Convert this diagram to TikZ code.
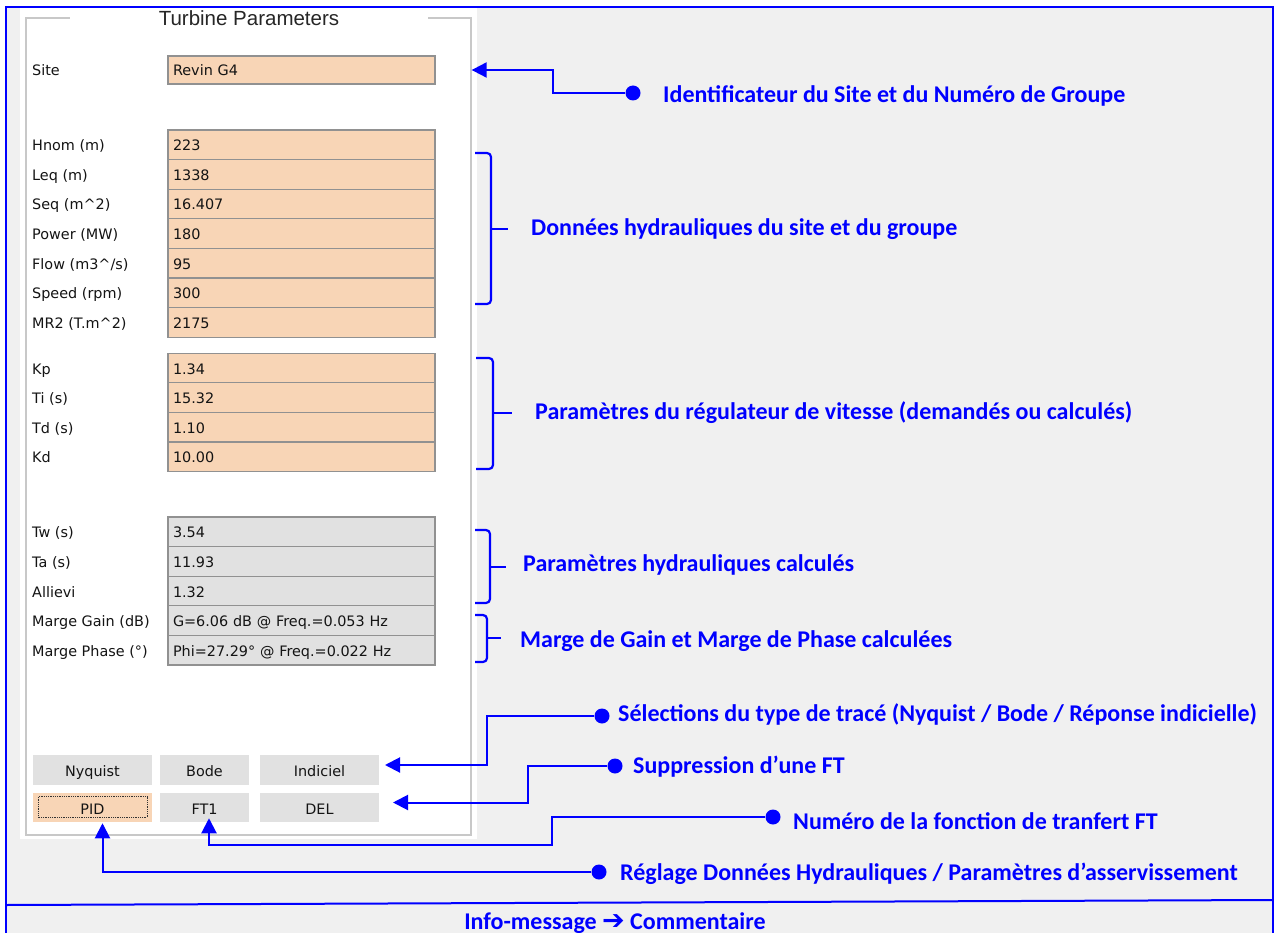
\documentclass[tikz,border=0pt]{standalone}
\usepackage{fontspec}
\setmainfont{DejaVu Sans}
\newfontfamily\titlefont{Liberation Sans}
\newfontfamily\notefont{Carlito}
\newfontfamily\symbolfont{DejaVu Sans}
\usetikzlibrary{arrows.meta, positioning}

\definecolor{winbg}{RGB}{240,240,240}
\definecolor{peach}{RGB}{248,213,182}
\definecolor{ctrlgray}{RGB}{225,225,225}
\definecolor{edgegray}{RGB}{145,145,145}
\definecolor{boxgray}{RGB}{200,200,200}
\definecolor{uitext}{RGB}{20,20,20}
\definecolor{noteblue}{RGB}{0,0,255}

\begin{document}
\begin{tikzpicture}[
    x=1pt, y=-1pt,
    field/.style={rectangle, draw=edgegray, line width=1.3pt, fill=peach, outer sep=0pt,
      minimum width=267pt, minimum height=29.6pt, inner xsep=5pt, inner ysep=0pt,
      text width=257pt, align=left, text height=12pt, text depth=0pt,
      font=\fontsize{14.4}{17}\selectfont, text=uitext},
    calcfield/.style={field, fill=ctrlgray},
    lbl/.style={anchor=base west, inner sep=0pt, font=\fontsize{14.4}{17}\selectfont, text=uitext},
    button/.style={rectangle, fill=ctrlgray, minimum width=119pt, minimum height=29.5pt, outer sep=0pt,
      inner sep=0pt, text height=13pt, text depth=0pt, font=\fontsize{14.4}{17}\selectfont, text=uitext},
    note/.style={anchor=base west, inner sep=0pt, text=noteblue, font=\notefont\bfseries\fontsize{24}{28}\selectfont},
    dot/.style={circle, fill=noteblue, minimum size=15pt, inner sep=0pt},
    link/.style={draw=noteblue, line width=2pt, -{Triangle[length=15pt, width=15pt]}},
    brace/.style={draw=noteblue, line width=2.2pt, rounded corners=4pt}
]

% Window and blue frame
\useasboundingbox (0,0) rectangle (1277,933);
\fill[white] (0,0) rectangle (1277,933);
\fill[winbg] (6,7) rectangle (1273,933);
\draw[noteblue, line width=2.5pt] (6,933) -- (6,7) -- (1273,7) -- (1273,933);
\draw[noteblue, line width=2pt] (6,905) -- (1273,900);

% Panel
\fill[white] (20,8) rectangle (477,839);
\node[draw=boxgray, line width=1.3pt, minimum width=445pt, minimum height=817pt] (panel) at (248.5,426.5) {};
\node[fill=white, minimum width=358pt, inner sep=1pt, text=black!85,
  font=\titlefont\fontsize{20.5}{24}\selectfont] (title) at (249,18) {Turbine Parameters};

% Site
\node[field, minimum height=28pt] (site) at (301.5,70) {Revin G4};
\node[lbl] at (32,0 |- site.base) {Site};

% Hydraulic data
\node[field] (hnom) at (301.5,144.8) {223};
\node[field, below=0pt of hnom] (leq) {1338};
\node[field, below=0pt of leq] (seq) {16.407};
\node[field, below=0pt of seq] (power) {180};
\node[field, below=0pt of power] (flow) {95};
\node[field, below=0pt of flow] (speed) {300};
\node[field, below=0pt of speed] (mr2) {2175};
\node[lbl] at (32,0 |- hnom.base) {Hnom (m)};
\node[lbl] at (32,0 |- leq.base) {Leq (m)};
\node[lbl] at (32,0 |- seq.base) {Seq (m\textasciicircum 2)};
\node[lbl] at (32,0 |- power.base) {Power (MW)};
\node[lbl] at (32,0 |- flow.base) {Flow (m3\textasciicircum/s)};
\node[lbl] at (32,0 |- speed.base) {Speed (rpm)};
\node[lbl] at (32,0 |- mr2.base) {MR2 (T.m\textasciicircum 2)};

% Speed governor
\node[field] (kp) at (301.5,368) {1.34};
\node[field, below=0pt of kp] (ti) {15.32};
\node[field, below=0pt of ti] (td) {1.10};
\node[field, below=0pt of td] (kd) {10.00};
\node[lbl] at (32,0 |- kp.base) {Kp};
\node[lbl] at (32,0 |- ti.base) {Ti (s)};
\node[lbl] at (32,0 |- td.base) {Td (s)};
\node[lbl] at (32,0 |- kd.base) {Kd};

% Computed values
\node[calcfield] (tw) at (301.5,531.8) {3.54};
\node[calcfield, below=0pt of tw] (ta) {11.93};
\node[calcfield, below=0pt of ta] (allievi) {1.32};
\node[calcfield, below=0pt of allievi] (gain) {G=6.06 dB @ Freq.=0.053 Hz};
\node[calcfield, below=0pt of gain] (phase) {Phi=27.29° @ Freq.=0.022 Hz};
\node[lbl] at (32,0 |- tw.base) {Tw (s)};
\node[lbl] at (32,0 |- ta.base) {Ta (s)};
\node[lbl] at (32,0 |- allievi.base) {Allievi};
\node[lbl] at (32,0 |- gain.base) {Marge Gain (dB)};
\node[lbl] at (32,0 |- phase.base) {Marge Phase (°)};

% Buttons
\node[button] (nyquist) at (92.5,770) {Nyquist};
\node[button, minimum width=89pt, right=8pt of nyquist] (bode) {Bode};
\node[button, right=11pt of bode] (indiciel) {Indiciel};
\node[button, fill=peach, below=8pt of nyquist] (pid) {PID};
\node[button, minimum width=89pt, below=8pt of bode] (ft1) {FT1};
\node[button, below=8pt of indiciel] (del) {DEL};
\draw[densely dotted, line width=0.8pt, black!80] ([xshift=5pt,yshift=-4pt]pid.north west) rectangle ([xshift=-5pt,yshift=5pt]pid.south east);

% Braces
\draw[brace] (475,153) -- (491,153) -- (491,304) -- (475,304);
\draw[brace] (491,229) -- (508,229);
\draw[brace] (476,358) -- (493,358) -- (493,469) -- (476,469);
\draw[brace] (493,413) -- (512,413);
\draw[brace] (475,530) -- (490,530) -- (490,603) -- (475,603);
\draw[brace] (490,567) -- (506,567);
\draw[brace] (475,615) -- (487,615) -- (487,662) -- (475,662);
\draw[brace] (487,638) -- (501,638);

% Notes
\node[dot] (dSite) at (633,93) {};
\node[note] (nSite) at (663,103) {Identificateur du Site et du Numéro de Groupe};
\node[note] (nHydro) at (531,236) {Données hydrauliques du site et du groupe};
\node[note] (nGov) at (535,419) {Paramètres du régulateur de vitesse (demandés ou calculés)};
\node[note] (nCalc) at (523,571) {Paramètres hydrauliques calculés};
\node[note] (nMarg) at (520,647) {Marge de Gain et Marge de Phase calculées};
\node[dot] (dSel) at (602,716) {};
\node[note] (nSel) at (618,721) {Sélections du type de tracé (Nyquist / Bode / Réponse indicielle)};
\node[dot] (dDel) at (615,766) {};
\node[note] (nDel) at (633,773) {Suppression d’une FT};
\node[dot] (dNum) at (773,817) {};
\node[note] (nNum) at (793,829) {Numéro de la fonction de tranfert FT};
\node[dot] (dReg) at (599,872) {};
\node[note] (nReg) at (620,880) {Réglage Données Hydrauliques / Paramètres d’asservissement};
\node[note, anchor=base] (info) at (615,929) {Info-message {\symbolfont\fontsize{27}{28}\selectfont ➔} Commentaire};

% Arrows
\draw[link] (dSite) -- ++(-80,0) |- (panel.east |- site);
\draw[link] (dSel) -- ++(-115,0) |- ([xshift=6pt,yshift=5pt]indiciel.east);
\draw[link] (dDel) -- ++(-87,0) |- ([xshift=14pt,yshift=5pt]del.east);
\draw[link] (dNum) -| ++(-221,28) -| ([xshift=4.5pt,yshift=4pt]ft1.south);
\draw[link] (dReg) -| ([xshift=10pt,yshift=-1pt]pid.south);

\end{tikzpicture}
\end{document}
